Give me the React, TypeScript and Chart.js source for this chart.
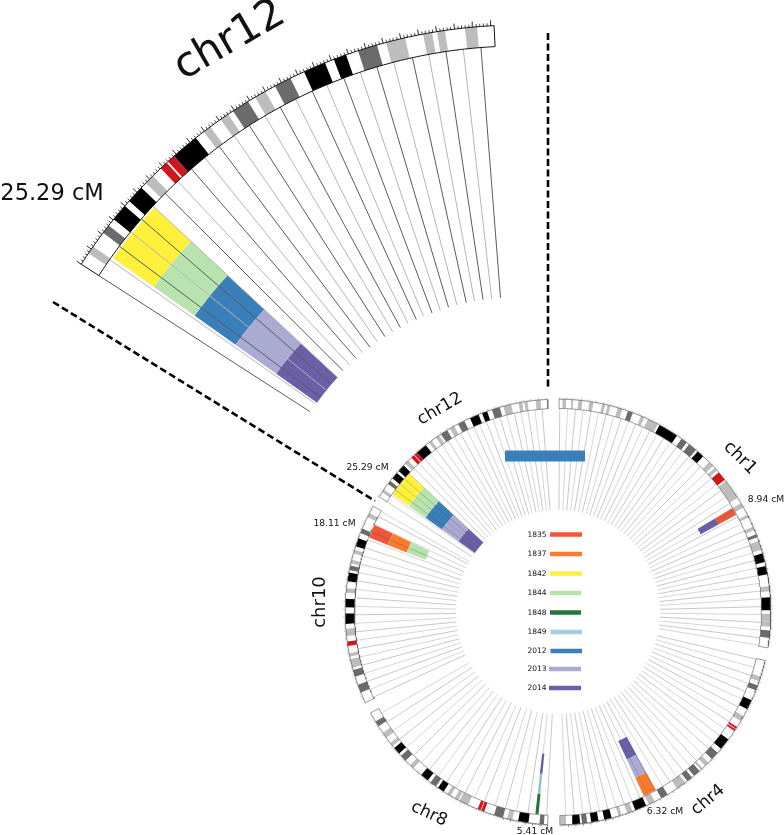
import React, { useEffect, useRef } from "react";
import { Chart, registerables } from "chart.js";

Chart.register(...registerables);

const WIDTH = 784;
const HEIGHT = 835;

// Angles are degrees clockwise from 12 o'clock. Band = [start, end, stain].
const chromSpans: Record<string, number[]> = {
  chr1: [0.3, 99.7],
  chr4: [103.2, 179.5],
  chr8: [182.8, 241.7],
  chr10: [244.8, 299.8],
  chr12: [302.8, 357.15],
};

type Band = [number, number, string];

const chr1Bands: Band[] = [
  [1.2, 2.2, "l"], [3.5, 4.1, "l"], [5.5, 6.6, "l"], [8.5, 9.6, "l"], [12, 12.8, "l"], [13.5, 14.3, "l"],
  [16.3, 17.6, "l"], [19.2, 20.6, "d"], [23, 23.9, "l"], [25, 28, "l"], [28.5, 34, "k"], [35.5, 37.2, "d"],
  [38, 40.4, "d"], [41, 43, "k"], [45.3, 46.7, "l"], [47.4, 48.3, "l"], [49, 51.6, "r"], [52, 57.5, "l"],
  [59.3, 60.6, "l"], [62.8, 63.6, "l"], [66.4, 67.3, "l"], [68.6, 69.4, "d"], [70.5, 73, "l"], [74, 76.4, "k"],
  [77.5, 79.8, "k"], [83, 84.4, "l"], [86, 89.5, "k"], [90.5, 92.6, "l"], [92.6, 94, "l"], [95, 97, "d"],
];
const chr4Bands: Band[] = [
  [107.7, 109, "l"], [110.2, 111.6, "d"], [114.5, 117.2, "k"], [119.3, 120.8, "l"], [122.7, 123.25, "r"],
  [123.45, 124, "r"], [126.8, 130, "k"], [131.4, 133.7, "d"], [135, 136.3, "l"], [137.2, 137.8, "l"],
  [138.3, 140.3, "d"], [141, 142.6, "d"], [143.3, 146, "l"], [149, 151, "d"], [153, 154.7, "l"],
  [155.5, 158.7, "k"], [159.5, 161, "l"], [162.6, 163.5, "l"], [165.4, 167.4, "k"], [169, 171, "k"],
  [172.1, 173.5, "d"], [174, 176, "k"], [177.8, 179.4, "l"],
];
const chr8Bands: Band[] = [
  [183.8, 185, "d"], [188, 190.8, "k"], [192.4, 193.8, "l"], [195, 197.5, "d"], [200.3, 201.15, "r"],
  [201.35, 202.2, "r"], [205, 207.6, "l"], [207.9, 209, "l"], [210.3, 211.3, "l"], [212.5, 214.3, "k"],
  [215, 216.8, "d"], [217.7, 220, "k"], [222.8, 224, "l"], [225.7, 227.5, "d"], [228.3, 230.3, "k"],
  [231, 232, "l"], [233.8, 235.4, "l"], [237.5, 239, "d"],
];
const chr10Bands: Band[] = [
  [247.8, 250, "d"], [252.3, 254.2, "d"], [254.8, 257.2, "l"], [257.9, 258.8, "l"], [260.8, 262, "r"],
  [263.5, 265.5, "l"], [266.8, 269.6, "k"], [271.3, 273.6, "k"], [275.2, 276.4, "l"], [278.3, 280.7, "k"],
  [281.4, 282.6, "d"], [283.2, 284.2, "l"], [286, 287, "l"], [288, 290.3, "k"], [291.8, 293.1, "d"],
  [296.5, 297.7, "l"],
];
const chr12Bands: Band[] = [
  [304.25, 305.15, "l"], [307, 308, "d"], [308.9, 310.8, "k"], [311.5, 313.5, "k"], [314.2, 315.3, "l"],
  [316.5, 317.4, "r"], [317.6, 318.5, "r"], [318.5, 321.6, "k"], [322.7, 323.6, "l"], [325, 326, "l"],
  [326.65, 328.6, "d"], [329.5, 330.8, "l"], [332, 333.9, "d"], [335.56, 338.06, "k"], [339.1, 340.53, "k"],
  [341.92, 344.1, "d"], [345.13, 347.27, "l"], [349.3, 350.3, "l"], [350.85, 351.74, "l"], [353.95, 355.28, "l"],
];

const chr1Spokes = [0.5, 2.7, 4.9, 7.1, 9.3, 11.5, 13.7, 15.9, 18.1, 20.3, 22.5, 24.7, 26.9, 29.1, 31.3, 33.5, 35.7, 37.9, 40.1, 42.3, 44.5, 46.7, 48.9, 51.1, 53.3, 55.5, 57.7, 59.9, 62.1, 64.3, 66.5, 68.7, 70.9, 73.1, 75.3, 77.5, 79.7, 81.9, 84.1, 86.3, 88.5, 90.7, 92.9, 95.1, 97.3, 99.4];
const chr4Spokes = [103.4, 105.8, 108.2, 110.6, 113, 115.4, 117.8, 120.2, 122.6, 125, 127.4, 129.8, 132.2, 134.6, 137, 139.4, 141.8, 144.2, 146.6, 149, 151.4, 153.8, 156.2, 158.6, 161, 163.4, 165.8, 168.2, 170.6, 173, 175.4, 177.8];
const chr8Spokes = [183.2, 186, 188.5, 191.8, 195, 198, 201.2, 204.2, 207.2, 210.2, 213.2, 216.2, 219.2, 222.2, 225.2, 228.2, 231.2, 234.2, 237.2, 240.2];
const chr10Spokes = [245.2, 247.6, 250, 252.4, 254.8, 257.2, 259.6, 262, 264.4, 266.8, 269.2, 271.6, 274, 276.4, 278.8, 281.2, 283.6, 286, 288.4, 290.8, 293.2, 295.6, 298, 299.6];
const chr12Spokes = [355.53, 353.5, 351.5, 349.5, 347.6, 345.4, 343.4, 341.4, 339.4, 337.3, 335.5, 333.4, 331.4, 329.4, 327.3, 325.2, 323.1, 321, 319, 316.9, 314.9, 312.9, 310.9, 309, 306.9, 305, 302.8];

const yearNames = ["1835", "1837", "1842", "1844", "1848", "1849", "2012", "2013", "2014"];
const yearColors = ["#f0563a", "#fb7b2e", "#fff03c", "#b9e3ae", "#22743a", "#a6cee3", "#3a7fb9", "#abaad2", "#6b60a8"];
const legendY = [534.5, 554, 573.5, 593, 612.5, 632, 651, 669, 688];
const legendX0 = [550, 550, 550, 550, 550, 550.5, 550.5, 549, 549];
const legendX1 = [582, 582, 582, 581, 581, 582, 582, 581, 581];

// QTL regions: angular span and the years stacked from the ideogram inwards.
const qtlChr1 = { span: [59.2, 61.4], years: ["1835", "2014"] };
const qtlChr4 = { span: [151.2, 155], years: ["1837", "2013", "2014"] };
const qtlChr8 = { span: [185.5, 186.4], years: ["1848", "1849", "2014"] };
const qtlChr10 = { span: [291.5, 295.4], years: ["1835", "1837", "1844"] };
const qtlChr12 = { span: [305.4, 312.9], years: ["1842", "1844", "2012", "2013", "2014"] };

const wideBarX = [505, 585];
const wideBarY = [450.5, 461.5];
const wideBarYear = "2012";

const dashedX = [[548, 548], [53, 375]];
const dashedY = [[33, 387], [302, 501]];

const textItems: [string, number, number, number, number][] = [
  ["chr12", 230, 41, 42, -30],
  ["25.29 cM", 52, 194, 22.5, 0],
  ["chr12", 440, 409, 17, -30],
  ["25.29 cM", 367.5, 468, 9.2, 0],
  ["18.11 cM", 334.5, 524, 9.2, 0],
  ["chr10", 320, 602, 18, -90],
  ["chr1", 740, 458, 17.5, 45],
  ["8.94 cM", 766, 500, 9.2, 0],
  ["chr4", 708, 800, 17, -40],
  ["6.32 cM", 665, 812, 9.2, 0],
  ["chr8", 429, 814, 17, 25],
  ["5.41 cM", 535, 832, 9.2, 0],
];

const stainColors: Record<string, string> = { k: "#000000", d: "#6b6b6b", l: "#bdbdbd", r: "#d2151d" };

type Geo = { cx: number; cy: number; rIn: number; rOut: number; minor: number; major: number; spokeIn: number; track: number; tracksFrom: number };
const small: Geo = { cx: 558, cy: 612, rIn: 203.5, rOut: 212.8, minor: 1.2, major: 2.2, spokeIn: 102, track: 20.2, tracksFrom: 203 };
const zoomed: Geo = { cx: 520, cy: 547, rIn: 501, rOut: 522, minor: 2.8, major: 5.5, spokeIn: 250, track: 50, tracksFrom: 499 };

const pt = (g: Geo, deg: number, r: number) => {
  const a = (deg * Math.PI) / 180;
  return { x: g.cx + r * Math.sin(a), y: g.cy - r * Math.cos(a) };
};
const arc = (g: Geo, a0: number, a1: number, r: number) => {
  const n = Math.max(1, Math.ceil(Math.abs(a1 - a0) / 0.5));
  const out = [];
  for (let i = 0; i <= n; i++) out.push(pt(g, a0 + ((a1 - a0) * i) / n, r));
  return out;
};
const wedge = (g: Geo, a0: number, a1: number, r0: number, r1: number) => {
  const outer = arc(g, a0, a1, r1);
  const inner = arc(g, a1, a0, r0);
  return [...outer, ...inner, outer[0]];
};
const GAP = { x: NaN, y: NaN };

const buildDatasets = () => {
  const ds: any[] = [];
  const line = (data: any[], color: string, width: number, extra: any = {}) =>
    ds.push({ data, borderColor: color, borderWidth: width, pointRadius: 0, pointHoverRadius: 0, showLine: true, fill: false, tension: 0, borderCapStyle: "butt", ...extra });
  const poly = (data: any[], color: string) =>
    ds.push({ data, borderColor: color, backgroundColor: color, borderWidth: 0, pointRadius: 0, pointHoverRadius: 0, showLine: true, fill: "shape", tension: 0 });

  const drawGroup = (g: Geo, spans: string[], zoom: boolean) => {
    const groups: Record<string, [Band[], number[], any]> = {
      chr1: [chr1Bands, chr1Spokes, qtlChr1],
      chr4: [chr4Bands, chr4Spokes, qtlChr4],
      chr8: [chr8Bands, chr8Spokes, qtlChr8],
      chr10: [chr10Bands, chr10Spokes, qtlChr10],
      chr12: [chr12Bands, chr12Spokes, qtlChr12],
    };
    spans.forEach((name) => {
      const [bands, spokes, qtl] = groups[name];
      const [s0, s1] = chromSpans[name];
      qtl.years.forEach((year: string, i: number) => {
        poly(wedge(g, qtl.span[0], qtl.span[1], g.tracksFrom - g.track * (i + 1), g.tracksFrom - g.track * i), yearColors[yearNames.indexOf(year)]);
      });
      const odd: any[] = [];
      const even: any[] = [];
      spokes.forEach((a, i) => {
        (i % 2 === 0 ? even : odd).push(pt(g, a, g.rIn), pt(g, a, g.spokeIn), GAP);
      });
      line(even, zoom ? "#5a5a5a" : "rgba(70,70,70,0.6)", zoom ? 1 : 0.5);
      line(odd, zoom ? "#b5b5b5" : "rgba(90,90,90,0.5)", zoom ? 1 : 0.5);
      bands.forEach(([a, b, stain]) => poly(wedge(g, a, b, g.rIn, g.rOut), stainColors[stain]));
      line(wedge(g, s0, s1, g.rIn, g.rOut), zoom ? "#111111" : "#555555", zoom ? 1 : 0.6);
      const minor: any[] = [];
      const major: any[] = [];
      const step = 0.4;
      for (let k = 0; s0 + k * step <= s1; k++) {
        const a = s0 + k * step;
        if (k % 5 === 0) major.push(pt(g, a, g.rOut), pt(g, a, g.rOut + g.major), GAP);
        else minor.push(pt(g, a, g.rOut), pt(g, a, g.rOut + g.minor), GAP);
      }
      line(minor, zoom ? "#222222" : "rgba(60,60,60,0.55)", zoom ? 0.8 : 0.35);
      line(major, zoom ? "#111111" : "rgba(60,60,60,0.7)", zoom ? 0.9 : 0.4);
    });
  };

  drawGroup(zoomed, ["chr12"], true);
  drawGroup(small, ["chr1", "chr4", "chr8", "chr10", "chr12"], false);

  poly(
    [
      { x: wideBarX[0], y: wideBarY[0] },
      { x: wideBarX[1], y: wideBarY[0] },
      { x: wideBarX[1], y: wideBarY[1] },
      { x: wideBarX[0], y: wideBarY[1] },
      { x: wideBarX[0], y: wideBarY[0] },
    ],
    yearColors[yearNames.indexOf(wideBarYear)],
  );

  yearNames.forEach((_, i) => {
    line([{ x: legendX0[i], y: legendY[i] }, { x: legendX1[i], y: legendY[i] }], yearColors[i], 4.5);
  });

  dashedX.forEach((xs, i) => {
    line([{ x: xs[0], y: dashedY[i][0] }, { x: xs[1], y: dashedY[i][1] }], "#000000", 2.6, { borderDash: [7, 3.5] });
  });

  const n = ds.length;
  ds.forEach((d, i) => (d.order = n - i));
  return ds;
};

const textPlugin = {
  id: "texts",
  afterDraw(chart: any) {
    const { ctx, scales } = chart;
    ctx.save();
    ctx.fillStyle = "#111111";
    ctx.textAlign = "center";
    ctx.textBaseline = "middle";
    textItems.forEach(([text, x, y, size, rot]) => {
      ctx.save();
      ctx.translate(scales.x.getPixelForValue(x), scales.y.getPixelForValue(y));
      ctx.rotate((rot * Math.PI) / 180);
      ctx.font = `${size}px "DejaVu Sans"`;
      ctx.fillText(text, 0, 0);
      ctx.restore();
    });
    ctx.font = '7.5px "DejaVu Sans"';
    ctx.textAlign = "right";
    yearNames.forEach((name, i) => {
      ctx.fillText(name, scales.x.getPixelForValue(546.5), scales.y.getPixelForValue(legendY[i] + 0.5));
    });
    ctx.restore();
  },
};

export default function App() {
  const ref = useRef<HTMLCanvasElement>(null);
  useEffect(() => {
    const chart = new Chart(ref.current as HTMLCanvasElement, {
      type: "scatter",
      data: { datasets: buildDatasets() },
      options: {
        responsive: false,
        animation: false,
        events: [],
        layout: { padding: 0 },
        plugins: { legend: { display: false }, tooltip: { enabled: false }, title: { display: false } },
        scales: {
          x: { type: "linear", display: false, min: 0, max: WIDTH },
          y: { type: "linear", display: false, min: 0, max: HEIGHT, reverse: true },
        },
      },
      plugins: [textPlugin],
    } as any);
    return () => chart.destroy();
  }, []);
  return (
    <canvas
      ref={ref}
      width={WIDTH}
      height={HEIGHT}
      style={{ position: "absolute", left: 0, top: 0, width: WIDTH, height: HEIGHT, display: "block", background: "#ffffff" }}
    />
  );
}
